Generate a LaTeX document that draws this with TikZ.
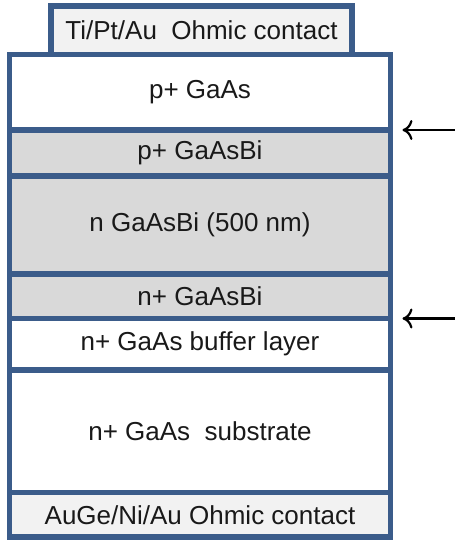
\documentclass[tikz,border=0pt]{standalone}
\usepackage{fontspec}
\setmainfont{Liberation Sans}
\usepackage{tikz}
\usetikzlibrary{positioning}
\usetikzlibrary{calc}
\usetikzlibrary{arrows.meta}
\definecolor{edge}{RGB}{59,92,138}
\definecolor{bismuth}{RGB}{217,217,217}
\definecolor{metal}{RGB}{242,242,242}
\definecolor{ink}{RGB}{25,25,25}

\begin{document}
\begin{tikzpicture}[x=1pt, y=-1pt,
  layer/.style={rectangle, draw=edge, line width=5.5pt, outer sep=0pt, inner sep=0pt,
    anchor=north west, text=ink, font=\fontsize{26}{30}\selectfont},
  pointer/.style={-{To[length=10pt,width=20pt]}, line width=2.2pt, black}]

%---------------------------------------
% Layer boundaries (y grows downwards)
%---------------------------------------
\def\Xl{9.5}    % left edge of the stack
\def\W{381}     % width of the stack
\def\Ytop{54.5}
\def\Ya{130}    % p+ GaAs / p+ GaAsBi
\def\Yb{176}
\def\Yc{274}
\def\Yd{318.5}  % n+ GaAsBi / buffer
\def\Ye{370}
\def\Yf{492.5}
\def\Ybot{537}

\useasboundingbox (0,0) rectangle (455,541);

% Top contact
\node[layer, fill=metal, minimum width=301pt, minimum height=48.5pt]
  (topcontact) at (51,6) {Ti/Pt/Au\ \ Ohmic contact};

%====================================================
% Epitaxial stack
%====================================================
\node[layer, fill=white, minimum width=\W pt, minimum height={(\Ya-\Ytop)*1pt}]
  (pGaAs) at (\Xl,\Ytop) {p+ GaAs};
\node[layer, fill=bismuth, minimum width=\W pt, minimum height={(\Yb-\Ya)*1pt}]
  (pGaAsBi) at (\Xl,\Ya) {p+ GaAsBi};
\node[layer, fill=bismuth, minimum width=\W pt, minimum height={(\Yc-\Yb)*1pt}]
  (nGaAsBi) at (\Xl,\Yb) {n GaAsBi (500 nm)};
\node[layer, fill=bismuth, minimum width=\W pt, minimum height={(\Yd-\Yc)*1pt}]
  (npGaAsBi) at (\Xl,\Yc) {n+ GaAsBi};
\node[layer, fill=white, minimum width=\W pt, minimum height={(\Ye-\Yd)*1pt}]
  (buffer) at (\Xl,\Yd) {n+ GaAs buffer layer};
\node[layer, fill=white, minimum width=\W pt, minimum height={(\Yf-\Ye)*1pt}]
  (substrate) at (\Xl,\Ye) {n+ GaAs\ \ substrate};

% Bottom contact
\node[layer, fill=metal, minimum width=\W pt, minimum height={(\Ybot-\Yf)*1pt}]
  (botcontact) at (\Xl,\Yf) {AuGe/Ni/Au Ohmic contact};

% Arrows marking the two junctions
\coordinate (tailA) at (455,\Ya);
\coordinate (tailB) at (455,\Yd);
\draw[pointer] (tailA) -- ([xshift=12pt]pGaAs.south east);
\draw[pointer] (tailB) -- ([xshift=12pt]npGaAsBi.south east);

\end{tikzpicture}
\end{document}
